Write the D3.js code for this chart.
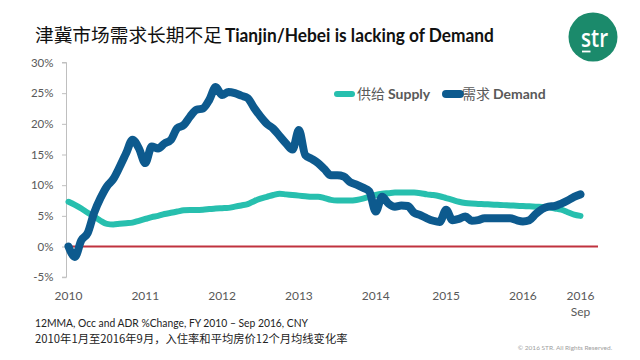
<!DOCTYPE html>
<html>
<head>
<meta charset="utf-8">
<script src="https://cdn.jsdelivr.net/npm/d3@7"></script>
<style>
  html, body { margin: 0; padding: 0; background: #ffffff; }
  svg { display: block; }
</style>
</head>
<body>
<script>
// ---- data ----
const xTickIndex = [0, 12, 24, 36, 48, 59, 71, 80];
const xTickLabels = ["2010", "2011", "2012", "2013", "2014", "2015", "2016", "2016|Sep"];
const yTicks = [-5, 0, 5, 10, 15, 20, 25, 30];

// monthly 12MMA % change, Jan 2010 .. Sep 2016 (81 months)
const supply = [
  7.3, 6.8, 6.2, 5.5, 4.9, 4.2, 3.7, 3.6, 3.7, 3.8, 3.9, 4.2,
  4.5, 4.8, 5.0, 5.3, 5.5, 5.7, 5.9, 5.95, 5.95, 6.0, 6.1, 6.2,
  6.25, 6.3, 6.5, 6.7, 6.9, 7.4, 7.8, 8.1, 8.4, 8.6, 8.5, 8.4,
  8.3, 8.2, 8.1, 8.1, 7.9, 7.6, 7.5, 7.5, 7.5, 7.6, 7.8, 8.1,
  8.4, 8.6, 8.7, 8.8, 8.8, 8.8, 8.8, 8.7, 8.5, 8.4, 8.2, 7.9,
  7.6, 7.3, 7.1, 7.0, 6.95, 6.9, 6.85, 6.8, 6.75, 6.7, 6.65, 6.6,
  6.55, 6.5, 6.45, 6.4, 6.2, 6.0, 5.6, 5.2, 5.0
];
const demand = [
  0.0, -1.7, 1.0, 2.2, 5.5, 7.9, 9.8, 11.0, 13.0, 15.2, 17.4, 16.0,
  13.6, 16.3, 16.0, 16.8, 17.4, 19.3, 19.8, 21.2, 22.3, 22.5, 23.9, 26.0,
  24.7, 25.2, 25.0, 24.6, 24.2, 22.6, 21.2, 20.0, 19.2, 18.0, 16.8, 15.8,
  19.0, 14.9, 14.3, 13.6, 12.6, 11.6, 11.6, 11.4, 10.5, 10.1, 9.6, 9.0,
  5.7, 8.1, 7.0, 6.5, 6.7, 6.6, 5.5, 5.1, 4.6, 4.2, 4.0, 6.0,
  4.3, 4.5, 4.9, 4.2, 4.3, 4.6, 4.6, 4.6, 4.6, 4.6, 4.3, 4.1,
  4.3, 5.3, 6.1, 6.5, 6.6, 7.0, 7.5, 8.1, 8.5
];
const seriesNames = [["供给", "Supply"], ["需求", "Demand"]];
const titleCn = "津冀市场需求长期不足";
const titleEn = "Tianjin/Hebei is lacking of Demand";
const note1 = "12MMA, Occ and ADR %Change, FY 2010 – Sep 2016, CNY";
const note2 = "2010年1月至2016年9月，入住率和平均房价12个月均线变化率";
const copyright = "© 2016 STR. All Rights Reserved.";

// ---- chart ----
const W = 640, H = 360;
const C_SUPPLY = "#27bfae", C_DEMAND = "#0d5a8e", C_ZERO = "#c0323f", C_TEXT = "#595959";
const CJK = "'Noto Sans CJK SC', sans-serif";
const LAT = "Lato, 'Noto Sans CJK SC', sans-serif";

const svg = d3.select("body").append("svg").attr("width", W).attr("height", H)
  .style("background", "#fff");

const x = d3.scaleLinear().domain([0, 80]).range([68.5, 580.5]);
const y = d3.scaleLinear().domain([-5, 30]).range([277.2, 62.5]);

// Title
const title = svg.append("text").attr("x", 35).attr("y", 42)
  .attr("fill", "#111");
title.append("tspan").text(titleCn).style("font-family", CJK).style("font-size", "18.7px");
const tEn = title.append("tspan").attr("dx", 3).text(titleEn)
  .style("font-family", LAT).style("font-weight", 700).style("font-size", "19px");
{
  const len = tEn.node().getComputedTextLength();
  if (Math.abs(len - 269) > 3) tEn.attr("textLength", 269).attr("lengthAdjust", "spacingAndGlyphs");
}

// Logo
const logo = svg.append("g");
logo.append("circle").attr("cx", 593).attr("cy", 37).attr("r", 24.5).attr("fill", "#1b8a6b");
logo.append("text").attr("x", 581).attr("y", 47).text("str")
  .attr("fill", "#fff").style("font-family", "'Open Sans', sans-serif").style("font-size", "26px")
  .style("font-weight", 600)
  .attr("textLength", 27).attr("lengthAdjust", "spacingAndGlyphs");
logo.append("line").attr("x1", 582).attr("x2", 590.5).attr("y1", 51.5).attr("y2", 51.5)
  .attr("stroke", "#fff").attr("stroke-width", 1.8);

// Y axis
const yAxis = svg.append("g").attr("transform", "translate(66.5,0)")
  .call(d3.axisLeft(y).tickValues(yTicks).tickSize(4.5).tickPadding(8.5).tickFormat(d => d + "%"));
yAxis.select(".domain").attr("stroke", "#bfbfbf").attr("stroke-width", 1)
  .attr("d", `M-4.5,${y(30)}H0V${y(-5)}H-4.5`);
yAxis.selectAll(".tick line").attr("stroke", "#bfbfbf");
yAxis.selectAll(".tick text").attr("fill", C_TEXT)
  .style("font-family", LAT).style("font-size", "11.5px");

// X labels
const xl = svg.append("g");
xTickIndex.forEach((idx, k) => {
  const parts = xTickLabels[k].split("|");
  const t = xl.append("text").attr("x", x(idx)).attr("y", 300).attr("text-anchor", "middle")
    .attr("fill", C_TEXT).style("font-family", LAT).style("font-size", "12px");
  parts.forEach((p, j) => {
    t.append("tspan").attr("x", x(idx)).attr("dy", j === 0 ? 0 : 15.5).text(p);
  });
});

// Zero line
svg.append("line").attr("x1", 66.5).attr("x2", 598).attr("y1", y(0)).attr("y2", y(0))
  .attr("stroke", C_ZERO).attr("stroke-width", 2);

// Lines
const line = d3.line().x((d, i) => x(i)).y(d => y(d)).curve(d3.curveMonotoneX);
svg.append("path").datum(supply).attr("d", line).attr("fill", "none")
  .attr("stroke", C_SUPPLY).attr("stroke-width", 6).attr("stroke-linecap", "round").attr("stroke-linejoin", "round");
svg.append("path").datum(demand).attr("d", line).attr("fill", "none")
  .attr("stroke", C_DEMAND).attr("stroke-width", 8).attr("stroke-linecap", "round").attr("stroke-linejoin", "round");

// Legend
const legendItems = [
  { name: seriesNames[0], color: C_SUPPLY, w: 6, x0: 337, x1: 352, tx: 357 },
  { name: seriesNames[1], color: C_DEMAND, w: 8, x0: 446, x1: 460, tx: 462 }
];
legendItems.forEach(it => {
  svg.append("line").attr("x1", it.x0).attr("x2", it.x1).attr("y1", 94).attr("y2", 94)
    .attr("stroke", it.color).attr("stroke-width", it.w).attr("stroke-linecap", "round");
  const t = svg.append("text").attr("x", it.tx).attr("y", 99).attr("fill", C_TEXT).style("font-size", "14px");
  t.append("tspan").text(it.name[0]).style("font-family", CJK);
  t.append("tspan").attr("dx", 3).text(it.name[1]).style("font-family", LAT).style("font-weight", 700);
});

// Notes
svg.append("text").attr("x", 35).attr("y", 327).text(note1).attr("fill", "#222")
  .style("font-family", LAT).style("font-size", "11.5px")
  .attr("textLength", 273).attr("lengthAdjust", "spacingAndGlyphs");
svg.append("text").attr("x", 35).attr("y", 342.5).text(note2).attr("fill", "#222")
  .style("font-family", CJK).style("font-size", "11.3px");
svg.append("text").attr("x", 565).attr("y", 350).attr("text-anchor", "middle").text(copyright)
  .attr("fill", "#a0a0a0").style("font-family", LAT).style("font-size", "6.5px");
</script>
</body>
</html>
